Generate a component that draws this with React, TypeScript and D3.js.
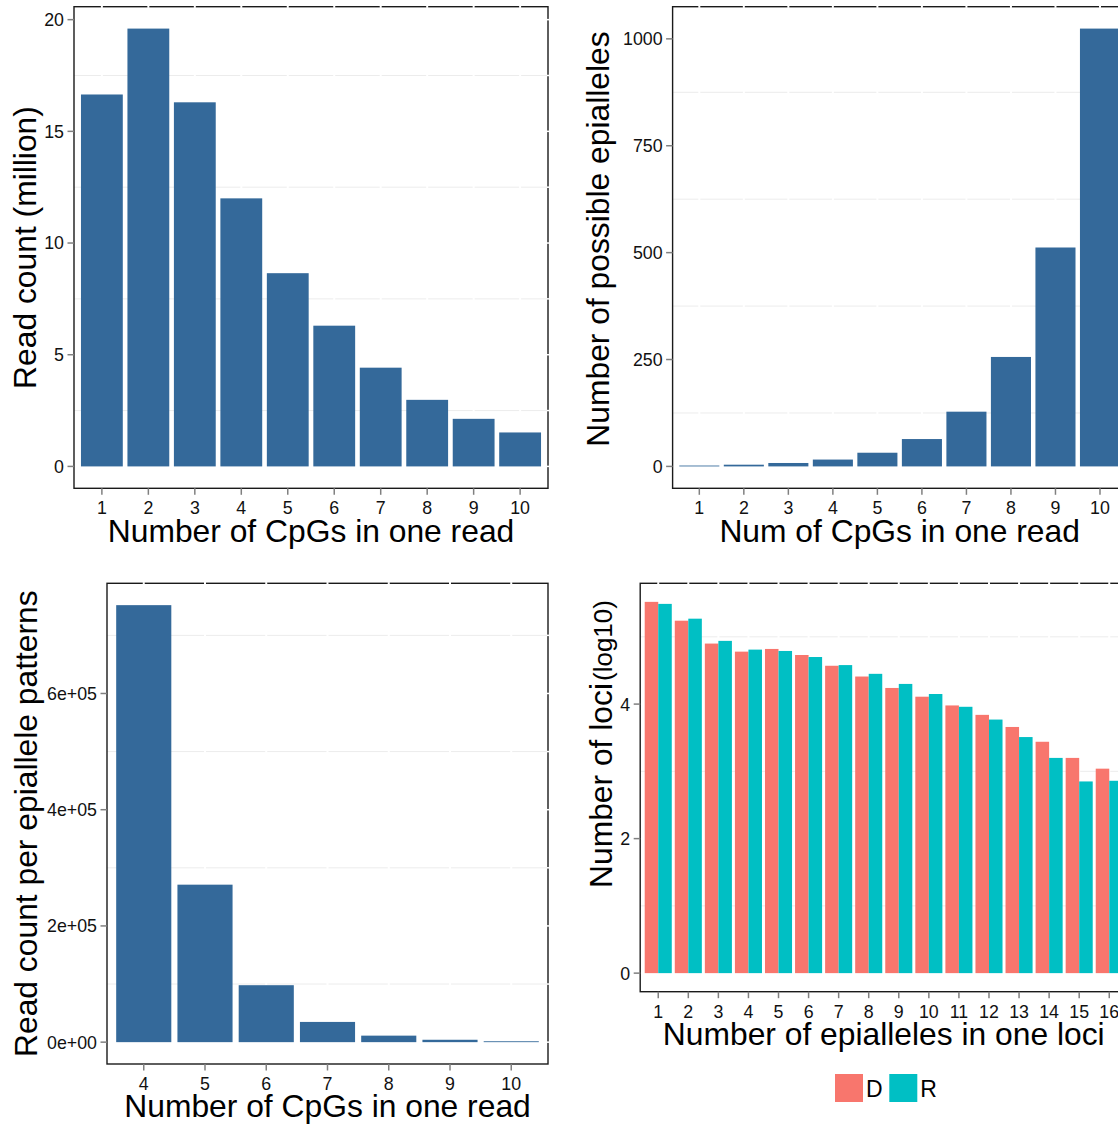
import React from "react";
import * as d3 from "d3";

// ---- data ----
const cpgCounts = [1, 2, 3, 4, 5, 6, 7, 8, 9, 10];
const readMillions = [16.65, 19.6, 16.3, 12.0, 8.65, 6.3, 4.42, 2.98, 2.13, 1.52];

const possibleEpialleles = [2, 4, 8, 16, 32, 64, 128, 256, 512, 1024];

const cpgCountsLong = [4, 5, 6, 7, 8, 9, 10];
const readsPerPattern = [752000, 271000, 98000, 34800, 11200, 4100, 1500];

const epialleleCounts = [1, 2, 3, 4, 5, 6, 7, 8, 9, 10, 11, 12, 13, 14, 15, 16];
const lociD = [5.52, 5.24, 4.9, 4.78, 4.82, 4.73, 4.57, 4.41, 4.24, 4.11, 3.98, 3.84, 3.66, 3.44, 3.2, 3.04];
const lociR = [5.49, 5.27, 4.94, 4.81, 4.79, 4.7, 4.58, 4.45, 4.3, 4.15, 3.96, 3.77, 3.51, 3.2, 2.85, 2.86];
const groups = ["D", "R"];
const groupColors = ["#F8766D", "#00BFC4"];

const ticksP1 = [0, 5, 10, 15, 20];
const minorP1 = [2.5, 7.5, 12.5, 17.5];
const ticksP2 = [0, 250, 500, 750, 1000];
const minorP2 = [125, 375, 625, 875];
const ticksP3 = [0, 200000, 400000, 600000];
const tickLabelsP3 = ["0e+00", "2e+05", "4e+05", "6e+05"];
const minorP3 = [100000, 300000, 500000, 700000];
const ticksP4 = [0, 2, 4];
const minorP4 = [1, 3, 5];

const BAR = "#34699a";
const FONT = "'Liberation Sans', Arial, Helvetica, sans-serif";
const TICK_FS = 17.8;
const TITLE_FS = 31.8;

type Box = { left: number; right: number; top: number; bottom: number };

function Panel(props: {
  box: Box;
  cats: number[];
  y: d3.ScaleLinear<number, number>;
  yTicks: number[];
  yTickLabels?: string[];
  minor: number[];
  xTitle: string;
  yTitle: React.ReactNode;
  yTitleX: number;
  yTitleY?: number;
  yTitleAnchor?: "middle" | "start";
  children: (x: d3.ScaleBand<string>) => React.ReactNode;
}) {
  const { box, cats, y, yTicks, yTickLabels, minor, xTitle, yTitle, yTitleX, children } = props;
  const x = d3
    .scaleBand<string>()
    .domain(cats.map(String))
    .range([box.left, box.right])
    .paddingInner(0.1)
    .paddingOuter(0.15);
  const cx = (c: number) => (x(String(c)) as number) + x.bandwidth() / 2;
  const titleY = props.yTitleY ?? (box.top + box.bottom) / 2;
  const cxPanel = (box.left + box.right) / 2;
  return (
    <g>
      {minor.map((v) => (
        <line key={"m" + v} x1={box.left} x2={box.right} y1={y(v)} y2={y(v)} stroke="#ececec" strokeWidth={1} />
      ))}
      {cats.map((c) => (
        <line key={"v" + c} x1={cx(c)} x2={cx(c)} y1={box.top} y2={box.bottom} stroke="#ffffff" strokeWidth={2} />
      ))}
      {children(x)}
      <rect
        x={box.left}
        y={box.top}
        width={box.right - box.left}
        height={box.bottom - box.top}
        fill="none"
        stroke="#1a1a1a"
        strokeWidth={1.4}
      />
      {cats.map((c) => (
        <line key={"g" + c} x1={cx(c)} x2={cx(c)} y1={box.top - 1.2} y2={box.top + 1.2} stroke="#ffffff" strokeWidth={2} />
      ))}
      {[...yTicks, ...minor].map((v) => (
        <line key={"r" + v} x1={box.right - 1.2} x2={box.right + 1.2} y1={y(v)} y2={y(v)} stroke="#ffffff" strokeWidth={1.5} />
      ))}
      {/* y axis */}
      {yTicks.map((v, i) => (
        <g key={"yt" + v}>
          <line x1={box.left - 6.5} x2={box.left} y1={y(v)} y2={y(v)} stroke="#808080" strokeWidth={1.5} />
          <text
            x={box.left - 10}
            y={y(v)}
            dy="0.36em"
            textAnchor="end"
            fontSize={TICK_FS}
            fontFamily={FONT}
            fill="#111"
          >
            {yTickLabels ? yTickLabels[i] : String(v)}
          </text>
        </g>
      ))}
      {/* x axis */}
      {cats.map((c) => (
        <g key={"xt" + c}>
          <line x1={cx(c)} x2={cx(c)} y1={box.bottom} y2={box.bottom + 6.5} stroke="#808080" strokeWidth={1.5} />
          <text x={cx(c)} y={box.bottom + 26} textAnchor="middle" fontSize={TICK_FS} fontFamily={FONT} fill="#111">
            {c}
          </text>
        </g>
      ))}
      <text
        x={cxPanel}
        y={box.bottom + 53.4}
        textAnchor="middle"
        fontSize={TITLE_FS}
        fontFamily={FONT}
        fill="#000"
      >
        {xTitle}
      </text>
      <text
        transform={`translate(${yTitleX},${titleY}) rotate(-90)`}
        textAnchor={props.yTitleAnchor ?? "middle"}
        fontSize={TITLE_FS}
        fontFamily={FONT}
        fill="#000"
      >
        {yTitle}
      </text>
    </g>
  );
}

function expandedY(maxVal: number, box: Box) {
  return d3
    .scaleLinear()
    .domain([-0.05 * maxVal, 1.05 * maxVal])
    .range([box.bottom, box.top]);
}

export default function App() {
  const b1: Box = { left: 74, right: 548, top: 6.7, bottom: 488.3 };
  const b2: Box = { left: 672.6, right: 1126.7, top: 6.7, bottom: 488.3 };
  const b3: Box = { left: 107, right: 548, top: 583.3, bottom: 1064 };
  const b4: Box = { left: 640.2, right: 1127.3, top: 583.3, bottom: 991.7 };

  const y1 = expandedY(d3.max(readMillions) as number, b1);
  const y2 = expandedY(d3.max(possibleEpialleles) as number, b2);
  const y3 = expandedY(d3.max(readsPerPattern) as number, b3);
  const y4 = expandedY(d3.max([...lociD, ...lociR]) as number, b4);

  const simpleBars = (vals: number[], cats: number[], y: d3.ScaleLinear<number, number>) => (
    x: d3.ScaleBand<string>
  ) =>
    cats.map((c, i) => (
      <rect
        key={c}
        x={x(String(c))}
        width={x.bandwidth()}
        y={y(vals[i])}
        height={y(0) - y(vals[i])}
        fill={BAR}
      />
    ));

  const groupedBars = (x: d3.ScaleBand<string>) => {
    const inner = d3.scaleBand<string>().domain(groups).range([0, x.bandwidth()]);
    const series = [lociD, lociR];
    return epialleleCounts.map((c, i) => (
      <g key={c} transform={`translate(${x(String(c))},0)`}>
        {groups.map((g, j) => (
          <rect
            key={g}
            x={inner(g)}
            width={inner.bandwidth()}
            y={y4(series[j][i])}
            height={y4(0) - y4(series[j][i])}
            fill={groupColors[j]}
          />
        ))}
      </g>
    ));
  };

  return (
    <svg
      width={1118}
      height={1125}
      style={{ position: "absolute", left: 0, top: 0, background: "#fff" }}
    >
      <rect x={0} y={0} width={1118} height={1125} fill="#fff" />
      <Panel
        box={b1}
        cats={cpgCounts}
        y={y1}
        yTicks={ticksP1}
        minor={minorP1}
        xTitle="Number of CpGs in one read"
        yTitle="Read count (million)"
        yTitleX={36}
      >
        {simpleBars(readMillions, cpgCounts, y1)}
      </Panel>
      <Panel
        box={b2}
        cats={cpgCounts}
        y={y2}
        yTicks={ticksP2}
        minor={minorP2}
        xTitle="Num of CpGs in one read"
        yTitle="Number of possible epialleles"
        yTitleX={609}
        yTitleY={239}
      >
        {simpleBars(possibleEpialleles, cpgCounts, y2)}
      </Panel>
      <Panel
        box={b3}
        cats={cpgCountsLong}
        y={y3}
        yTicks={ticksP3}
        yTickLabels={tickLabelsP3}
        minor={minorP3}
        xTitle="Number of CpGs in one read"
        yTitle="Read count per epiallele patterns"
        yTitleX={37}
      >
        {simpleBars(readsPerPattern, cpgCountsLong, y3)}
      </Panel>
      <Panel
        box={b4}
        cats={epialleleCounts}
        y={y4}
        yTicks={ticksP4}
        minor={minorP4}
        xTitle="Number of epialleles in one loci"
        yTitle={
          <>
            <tspan>Number of loci</tspan>
            <tspan fontSize={26} dx={2}>(log10)</tspan>
          </>
        }
        yTitleX={612}
        yTitleY={888}
        yTitleAnchor="start"
      >
        {groupedBars}
      </Panel>
      {/* legend */}
      <g fontFamily={FONT} fontSize={23}>
        {groups.map((g, j) => (
          <g key={g} transform={`translate(${835 + j * 54.3},1074)`}>
            <rect x={0} y={0} width={28} height={28} fill={groupColors[j]} />
            <text x={31} y={22.7} fill="#000">
              {g}
            </text>
          </g>
        ))}
      </g>
    </svg>
  );
}
